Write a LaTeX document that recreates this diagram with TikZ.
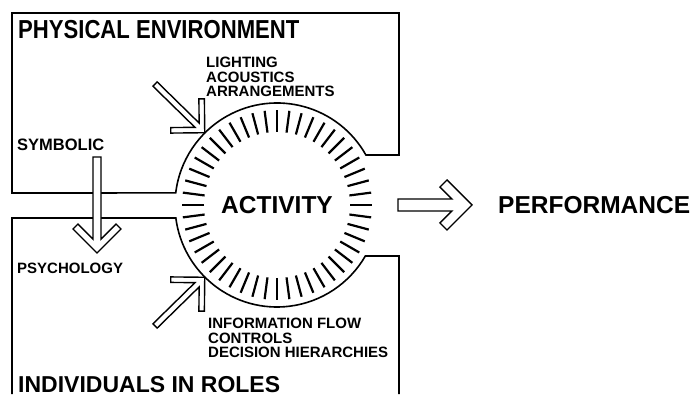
\documentclass[tikz,border=0pt]{standalone}
\usepackage{fontspec}
\setmainfont{Liberation Sans}
\newfontfamily\narrowfont[FakeStretch=0.85]{Liberation Sans}
\usepackage{tikz}
\usetikzlibrary{positioning}
\usetikzlibrary{calc}

% hollow block arrow from #1 to #2: shaft half width #3, head arm #4, head size #5
\newcommand{\hollowarrow}[5]{%
  \draw[blockarrow] let \p1=($(#2)-(#1)$), \n1={veclen(\x1,\y1)}, \n2={atan2(\y1,\x1)} in
    {[shift={(#2)}, rotate=\n2]
    (-\n1,#3) -- ({-#3-1.414*#4},#3) -- ({-#5-0.707*#4},{#5-0.707*#4}) -- (-#5,#5) -- (0,0)
    -- (-#5,-#5) -- ({-#5-0.707*#4},{-#5+0.707*#4}) -- ({-#3-1.414*#4},-#3) -- (-\n1,-#3) -- cycle};
}

\begin{document}
\begin{tikzpicture}[x=1pt, y=1pt]
\tikzstyle{frame}=[line width=1.6pt]
\tikzstyle{tick}=[line width=2.2pt]
\tikzstyle{blockarrow}=[draw, fill=white, line width=1.4pt, line join=miter]
\tikzstyle{biglabel}=[inner sep=0pt, font=\bfseries\fontsize{23}{26}\selectfont]
\tikzstyle{boldlabel}=[inner sep=0pt, font=\bfseries\fontsize{24.5}{26}\selectfont]
\tikzstyle{smalllabel}=[inner sep=0pt, align=left, font=\bfseries\fontsize{15}{14.5}\selectfont]

\useasboundingbox (0,0) rectangle (695,396);

% Activity
\node[circle, minimum size=204pt, boldlabel] (act) at (277,191) {ACTIVITY};

% Boxes
\draw[frame] (12,203) -- (12,383) -- (399,383) -- (399,241)
  -- ($(act)+(29.35:102)$) arc[start angle=29.35, end angle=173.2, radius=102] -- cycle;
\draw[frame] (12,2) -- (12,178) -- ($(act)+(187.3:102)$)
  arc[start angle=187.3, end angle=330, radius=102] -- (399,140) -- (399,2);

% Ticks
\foreach \a in {0,7.5,...,352.5}
  \draw[tick] ($(act)+(\a:73)$) -- ($(act)+(\a:95)$);

% Labels
\node[biglabel, font=\narrowfont\bfseries\fontsize{26}{28}\selectfont, anchor=base west] (phys) at (18,357) {PHYSICAL ENVIRONMENT};
\node[biglabel, anchor=base west] (roles) at (18,4) {INDIVIDUALS IN ROLES};
\node[smalllabel, anchor=north west] (setting) at (206,339) {LIGHTING\\ACOUSTICS\\ARRANGEMENTS};
\node[smalllabel, anchor=north west] (org) at (208,78) {INFORMATION FLOW\\CONTROLS\\DECISION HIERARCHIES};
\node[smalllabel, font=\bfseries\fontsize{16.5}{18}\selectfont, anchor=base west] (sym) at (17,245) {SYMBOLIC};
\node[smalllabel, anchor=base west] (psy) at (17,122) {PSYCHOLOGY};

% Arrows
\coordinate (symtail) at (97,239);
\coordinate (symtip) at (97,143);
\coordinate (settail) at (155,312);
\coordinate (orgtail) at (155,70);
\coordinate (perftail) at (398,191);
\coordinate (perftip) at (472,191);
\node[boldlabel, right=26pt of perftip] (perf) {PERFORMANCE};

\hollowarrow{symtail}{symtip}{4}{7}{24}
\hollowarrow{settail}{act.135}{3}{5.5}{24}
\hollowarrow{orgtail}{act.225}{3}{5.5}{24}
\hollowarrow{perftail}{perftip}{6}{10}{25}

\end{tikzpicture}
\end{document}
